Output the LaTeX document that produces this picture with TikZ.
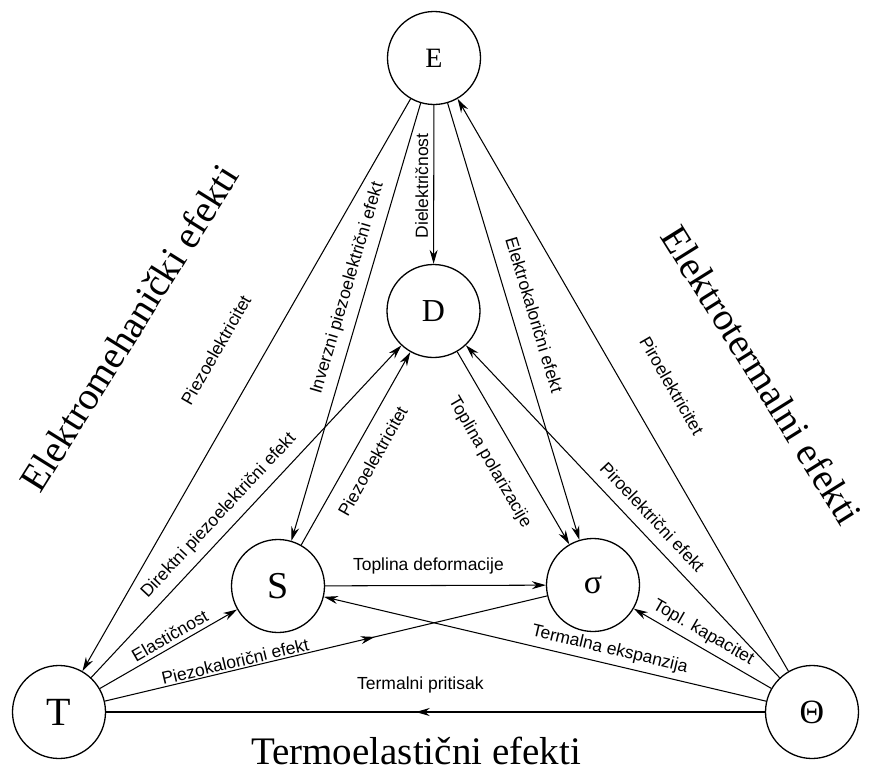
\documentclass[tikz,border=0pt]{standalone}
\usepackage{fontspec}
\setmainfont{Liberation Serif}
\newfontfamily\labfont{Liberation Sans}
\usetikzlibrary{arrows.meta,decorations.markings}
\begin{document}
\begin{tikzpicture}[x=1pt,y=-1pt,
  st/.style={circle,draw,line width=1.3pt,minimum size=93pt,inner sep=0pt},
  ed/.style={line width=1.05pt,-{Stealth[length=14pt,width=8pt]}},
  pl/.style={line width=1.05pt},
  lab/.style={font=\labfont\fontsize{17.5}{17.5}\selectfont,inner sep=0pt,sloped},
  big/.style={font=\fontsize{39}{39}\selectfont,inner sep=0pt},
  midarrow/.style={postaction={decorate},decoration={markings,mark=at position #1 with {\arrow{Stealth[length=14pt,width=8pt]}}}}
]
\useasboundingbox (0,0) rectangle (872,771);
\node[st,font=\fontsize{28}{28}\selectfont] (E) at (434,58) {E};
\node[st,font=\fontsize{32}{32}\selectfont] (D) at (433.5,311) {D};
\node[st,font=\fontsize{38}{38}\selectfont] (S) at (278,586) {S};
\node[st,font=\fontsize{34}{34}\selectfont] (sig) at (593,585) {σ};
\node[st,font=\fontsize{40}{40}\selectfont] (T) at (59,712) {T};
\node[st,font=\fontsize{34}{34}\selectfont] (Th) at (812,712) {Θ};

\draw[ed] (E) -- node[lab,pos=0.477,above=37pt] (l1) {Piezoelektricitet} (T);
\draw[ed] (E) -- node[lab,pos=0.434,above=9pt] (l2) {Inverzni piezoelektrični efekt} (S);
\draw[ed] (E) -- node[lab,pos=0.509,above=5pt] (l3) {Dielektričnost} (D);
\draw[ed] (E) -- node[lab,pos=0.499,above=15pt] (l4) {Elektrokalorični efekt} (sig);
\draw[ed] (Th) -- node[lab,pos=0.462,above=35pt] (l5) {Piroelektricitet} (E);
\draw[ed] (T) -- node[lab,pos=0.452,above=8.5pt] (l6) {Direktni piezoelektrični efekt} (D);
\draw[ed] (S) -- node[lab,pos=0.488,below=14pt] (l7) {Piezoelektricitet} (D);
\draw[ed] (D) -- node[lab,pos=0.503,below=19pt] (l8) {Toplina polarizacije} (sig);
\draw[ed] (Th) -- node[lab,pos=0.447,above=11pt] (l9) {Piroelektrični efekt} (D);
\draw[ed] (S) -- node[lab,pos=0.468,above=11pt] (l10) {Toplina deformacije} (sig);
\draw[ed] (T) -- node[lab,pos=0.549,above=4pt] (l11) {Elastičnost} (S);
\draw[pl,midarrow=0.61] (T) -- node[lab,pos=0.299,above=1.5pt] (l12) {Piezokalorični efekt} (sig);
\draw[ed] (Th) -- node[lab,pos=0.361,above=5.5pt] (l13) {Termalna ekspanzija} (S);
\draw[ed] (Th) -- node[lab,pos=0.546,above=5.5pt] (l14) {Topl. kapacitet} (sig);
\draw[pl,midarrow=0.53] (Th) -- node[lab,pos=0.523,above=18pt] (l15) {Termalni pritisak} (T);

\node[big,rotate=58] (em) at (129,328) {Elektromehanički efekti};
\node[big,rotate=-58] (et) at (762,375) {Elektrotermalni efekti};
\node[big,anchor=base] (te) at (416,764) {Termoelastični efekti};
\end{tikzpicture}
\end{document}
